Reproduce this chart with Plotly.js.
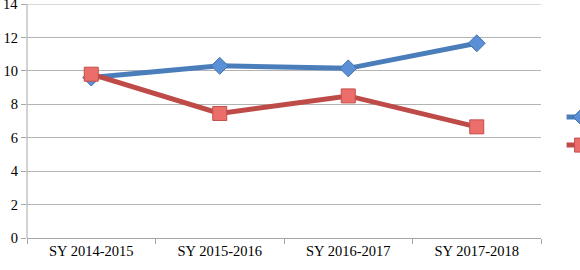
<!DOCTYPE html>
<html>
<head>
<meta charset="utf-8">
<script src="https://cdn.plot.ly/plotly-3.0.1.min.js"></script>
<style>html,body{margin:0;padding:0;background:#fff;overflow:hidden;}#chart{width:580px;height:270px;}</style>
</head>
<body>
<div id="chart"></div>
<script>
const categories = ["SY 2014-2015", "SY 2015-2016", "SY 2016-2017", "SY 2017-2018"];
const seriesBlue = [9.6, 10.3, 10.15, 11.65];
const seriesRed = [9.8, 7.45, 8.5, 6.65];
const seriesNames = [" ", " "];
const yTicks = [0, 2, 4, 6, 8, 10, 12, 14];
const yMax = yTicks[yTicks.length - 1];

const traces = [
  {
    x: categories, y: seriesBlue, name: seriesNames[0], type: "scatter", mode: "lines+markers",
    line: {color: "#4a7ebb", width: 5},
    marker: {symbol: "diamond", size: 13, color: "#5b8fd6", line: {color: "#3f70ad", width: 1}},
    legend: "legend", cliponaxis: false
  },
  {
    x: categories, y: seriesRed, name: seriesNames[1], type: "scatter", mode: "lines+markers",
    line: {color: "#be4b48", width: 5},
    marker: {symbol: "square", size: 14, color: "#eb6e6b", line: {color: "#c0504d", width: 1}},
    legend: "legend2", cliponaxis: false
  }
];

const layout = {
  width: 580, height: 270,
  margin: {l: 27, r: 39, t: 4, b: 32, autoexpand: false},
  paper_bgcolor: "#fff", plot_bgcolor: "#fff",
  font: {family: "Liberation Serif, serif", size: 14.5, color: "#000"},
  xaxis: {
    type: "category", range: [-0.5, 3.5],
    showline: true, linecolor: "#a6a6a6", linewidth: 1,
    ticks: "outside", tickson: "boundaries", ticklen: 5, tickcolor: "#a6a6a6",
    showgrid: false, zeroline: false, fixedrange: true
  },
  yaxis: {
    range: [0, yMax], tickvals: yTicks, ticktext: yTicks.map(String),
    showline: false,
    ticks: "outside", ticklen: 5, tickcolor: "#a6a6a6",
    showgrid: true, gridcolor: "#b3b3b3", gridwidth: 1,
    zeroline: false, fixedrange: true
  },
  shapes: [
    {type: "line", xref: "paper", yref: "y", x0: 0, x1: 0, y0: 0, y1: yMax, line: {color: "#a6a6a6", width: 1}},
    {type: "line", xref: "paper", yref: "y", x0: 0, x1: 1, y0: yMax, y1: yMax, line: {color: "#b3b3b3", width: 1}, layer: "below"},
    {type: "line", xref: "paper", xsizemode: "pixel", xanchor: 0, x0: -5, x1: 0, yref: "y", y0: yMax, y1: yMax, line: {color: "#a6a6a6", width: 1}}
  ],
  annotations: [
    {xref: "paper", yref: "y", x: 0, y: yMax, text: String(yMax), showarrow: false, xanchor: "right", yanchor: "middle", xshift: -7, font: {family: "Liberation Serif, serif", size: 14.5, color: "#000"}}
  ],
  showlegend: true,
  legend: {x: 1.04, y: 0.517, xanchor: "left", yanchor: "middle", bgcolor: "rgba(0,0,0,0)", font: {size: 12}},
  legend2: {x: 1.04, y: 0.397, xanchor: "left", yanchor: "middle", bgcolor: "rgba(0,0,0,0)", font: {size: 12}}
};

Plotly.newPlot("chart", traces, layout, {staticPlot: true, displayModeBar: false});
</script>
</body>
</html>
